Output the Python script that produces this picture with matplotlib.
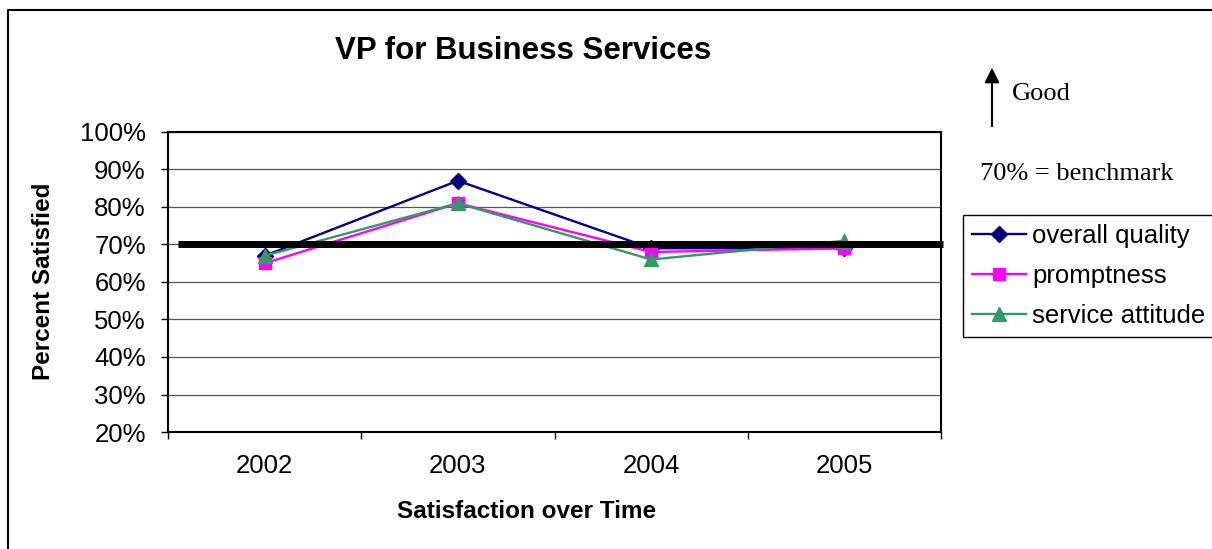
import numpy as np
import matplotlib
matplotlib.use('Agg')
import matplotlib.pyplot as plt
from matplotlib.lines import Line2D

# satisfaction percentages per year
years = ['2002', '2003', '2004', '2005']
overall_quality = [67, 87, 69, 69]
promptness = [65, 81, 68, 69]
service_attitude = [67, 81, 66, 71]
benchmark = 70
yticks = [20, 30, 40, 50, 60, 70, 80, 90, 100]

W, H = 1212, 549
plt.rcParams['font.family'] = ['Liberation Sans', 'DejaVu Sans']

fig = plt.figure(figsize=(W / 100, H / 100), dpi=100)
ax = fig.add_axes([168 / W, 1 - 432 / H, (941 - 168) / W, (432 - 132) / H])

x = np.arange(len(years))

ax.plot(x, overall_quality, color='#000080', lw=1.7, marker='D', ms=8,
        label='overall quality', zorder=3)
ax.plot(x, promptness, color='#FF00FF', lw=1.7, marker='s', ms=9,
        label='promptness', zorder=4)
ax.plot(x, service_attitude, color='#339966', lw=1.7, marker='^', ms=10,
        label='service attitude', zorder=5)

# benchmark line, runs slightly past the right edge
ax.plot([-0.45, 3.51], [benchmark, benchmark], color='black', lw=5,
        solid_capstyle='butt', clip_on=False, zorder=6)

ax.set_xlim(-0.5, 3.5)
ax.set_ylim(20, 100)
ax.set_yticks(yticks)
ax.set_yticklabels([str(v) + '%' for v in yticks])
ax.set_xticks(x)
ax.set_xticklabels(years)
ax.set_xticks(np.arange(-0.5, 4, 1), minor=True)
ax.tick_params(axis='x', which='major', length=0, pad=16, labelsize=18.5)
ax.tick_params(axis='x', which='minor', length=5, width=1, direction='out')
ax.tick_params(axis='y', length=5, width=1, direction='out', pad=11, labelsize=18.5)

ax.grid(axis='y', color='#555555', lw=0.9)
ax.set_axisbelow(True)
for s in ax.spines.values():
    s.set_linewidth(1.5)

fig.text(523 / W, 1 - 59 / H, 'VP for Business Services', ha='center',
         va='baseline', fontsize=22.5, fontweight='bold')
fig.text(527 / W, 1 - 518 / H, 'Satisfaction over Time', ha='center',
         va='baseline', fontsize=17.5, fontweight='bold')
fig.text(44 / W, 1 - 281 / H, 'Percent Satisfied', ha='center', va='center',
         rotation=90, fontsize=17.5, fontweight='bold')

leg = fig.legend(loc='upper left', bbox_to_anchor=(963 / W, 1 - 215 / H),
                 fontsize=18.5, frameon=True, fancybox=False, edgecolor='black',
                 framealpha=1, borderaxespad=0, borderpad=0.35,
                 labelspacing=0.62, handlelength=2.1, handletextpad=0.25)
leg.get_frame().set_linewidth(1.0)

# "Good" arrow and benchmark note
ax.annotate('', xy=(992 / W, 1 - 65 / H), xytext=(992 / W, 1 - 129 / H),
            xycoords='figure fraction', textcoords='figure fraction',
            arrowprops=dict(arrowstyle='-|>', color='black', lw=1.5,
                            mutation_scale=22))
fig.text(1012 / W, 1 - 100 / H, 'Good', fontsize=19,
         family=['Liberation Serif', 'DejaVu Serif'], va='baseline')
fig.text(980 / W, 1 - 180 / H, '70% = benchmark', fontsize=19,
         family=['Liberation Serif', 'DejaVu Serif'], va='baseline')

# outer border (left and top)
fig.add_artist(Line2D([8 / W, 8 / W, 1], [0, 1 - 10 / H, 1 - 10 / H],
                      color='black', lw=1.5, transform=fig.transFigure))

fig.savefig('out.png', dpi=100)
